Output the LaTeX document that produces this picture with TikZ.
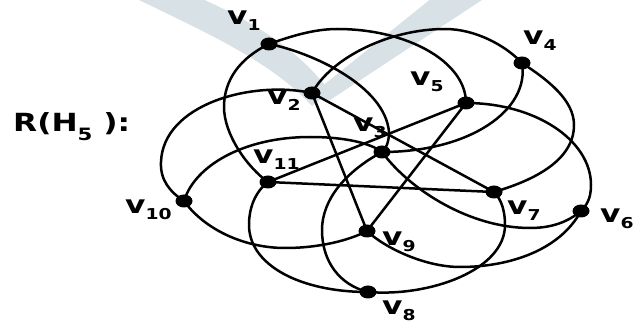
\documentclass[tikz,border=0pt]{standalone}
\usepackage{fontspec}
\setmainfont{DejaVu Sans}
\newfontfamily\lblfont[FakeStretch=1.25]{DejaVu Sans}
\usepackage{tikz}
\usetikzlibrary{shapes.geometric}

\definecolor{bandgray}{RGB}{215,225,230}
\newcommand{\vname}[2][15]{v\raisebox{-6pt}{\fontsize{#1}{#1}\selectfont #2}}

\tikzset{
  vertex/.style={ellipse,fill=black,inner sep=0pt,minimum width=17pt,minimum height=13pt},
  vlabel/.style={anchor=base west,inner sep=0pt,font=\lblfont\bfseries\fontsize{25}{25}\selectfont},
  edge/.style={draw=black,line width=2.5pt}
}

\begin{document}
\begin{tikzpicture}[x=1pt,y=-1pt]
\useasboundingbox (0,0) rectangle (633,326);
% objects at depth 60: the grey bands
\path[fill=bandgray] (135,-2) .. controls (200,30) and (270,60) .. (312,106)
  -- (330,92) .. controls (300,50) and (250,20) .. (200,-2) -- cycle;
\path[fill=bandgray] (310,96) -- (432,-2) -- (485,-2) -- (330,100) -- cycle;
% objects at depth 50: vertices
\node[vertex] (v1) at (269,44) {};
\node[vertex] (v2) at (312,93) {};
\node[vertex] (v3) at (382,152) {};
\node[vertex] (v4) at (522,63) {};
\node[vertex] (v5) at (466,103) {};
\node[vertex] (v6) at (581,211) {};
\node[vertex] (v7) at (494,192) {};
\node[vertex] (v8) at (368,292) {};
\node[vertex] (v9) at (367,231) {};
\node[vertex] (v10) at (184,201) {};
\node[vertex] (v11) at (268,182) {};
% objects at depth 40: labels
\node[vlabel] (title) at (13,132) {R(H\raisebox{-9pt}{\fontsize{17}{17}\selectfont 5} ):};
\node[vlabel] (l1) at (227,25) {\vname{1}};
\node[vlabel] (l2) at (267,105) {\vname{2}};
\node[vlabel] (l3) at (353,132) {\vname{3}};
\node[vlabel] (l4) at (523,45) {\vname{4}};
\node[vlabel] (l5) at (410,86) {\vname{5}};
\node[vlabel] (l6) at (600,223) {\vname{6}};
\node[vlabel] (l7) at (507,215) {\vname{7}};
\node[vlabel] (l8) at (382,315) {\vname{8}};
\node[vlabel] (l9) at (382,246) {\vname{9}};
\node[vlabel] (l10) at (125,214) {\vname{10}};
\node[vlabel] (l11) at (253,164) {\vname{11}};
% objects at depth 30: straight edges
\path[edge] (v2.center) -- (v7.center);
\path[edge] (v2.center) -- (v9.center);
\path[edge] (v11.center) -- (v5.center);
\path[edge] (v11.center) -- (v7.center);
\path[edge] (v9.center) -- (v5.center);
% objects at depth 20: arcs
\path[edge] (v1.center) .. controls (289,37) and (313,29) .. (337,29)
  .. controls (408,29) and (466,62) .. (v5.center);
\path[edge] (v1.center) .. controls (310,52) and (385,85) .. (389,132)
  .. controls (389,142) and (386,149) .. (v3.center);
\path[edge] (v1.center) .. controls (240,58) and (224,80) .. (224,107)
  .. controls (224,135) and (248,168) .. (v11.center);
\path[edge] (v2.center) .. controls (332,57) and (390,29) .. (445,29)
  .. controls (475,29) and (505,45) .. (v4.center)
  .. controls (548,80) and (574,100) .. (574,125)
  .. controls (574,160) and (535,180) .. (v7.center);
\path[edge] (v4.center) .. controls (530,110) and (470,152) .. (v3.center);
\path[edge] (v5.center) .. controls (535,103) and (591,140) .. (591,185)
  .. controls (591,198) and (587,205) .. (v6.center)
  .. controls (560,250) and (510,267) .. (460,267)
  .. controls (425,267) and (385,248) .. (v9.center);
\path[edge] (v10.center) .. controls (195,165) and (245,137) .. (310,137)
  .. controls (345,137) and (370,143) .. (v3.center)
  .. controls (410,190) and (470,228) .. (530,228)
  .. controls (555,228) and (570,220) .. (v6.center);
\path[edge] (v2.center) .. controls (250,80) and (163,105) .. (161,162)
  .. controls (160,180) and (170,192) .. (v10.center)
  .. controls (205,230) and (245,248) .. (285,248)
  .. controls (320,248) and (350,240) .. (v9.center);
\path[edge] (v11.center) .. controls (255,192) and (249,208) .. (249,225)
  .. controls (249,265) and (300,292) .. (v8.center);
\path[edge] (v3.center) .. controls (345,172) and (322,200) .. (322,230)
  .. controls (322,262) and (340,285) .. (v8.center);
\path[edge] (v7.center) .. controls (502,200) and (505,212) .. (505,225)
  .. controls (505,270) and (430,297) .. (v8.center);
\end{tikzpicture}
\end{document}
